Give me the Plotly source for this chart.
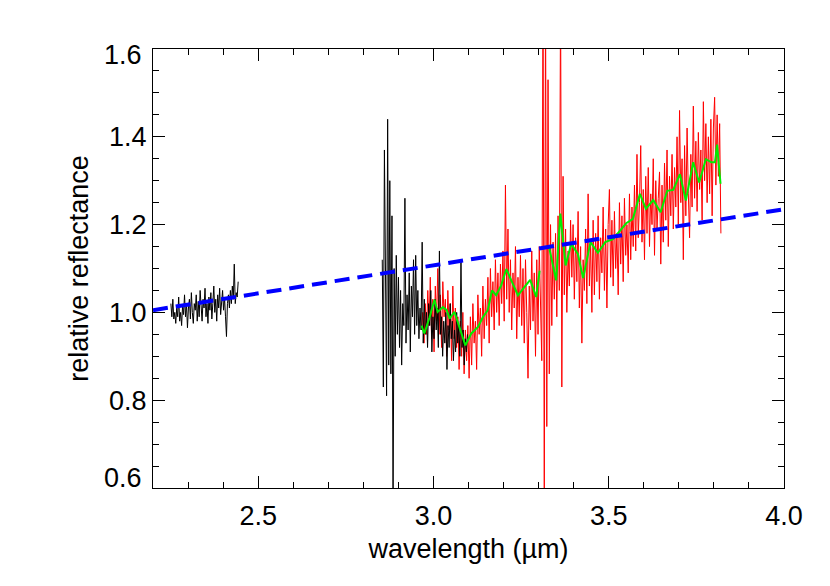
import numpy as np
import plotly.graph_objects as go

# ---------------- data ----------------
# black spectrum, short-wavelength segment
black1_wl = np.linspace(2.251, 2.443, 70)
black1_val = [1.02, 0.99, 1.03, 0.985, 1.00, 0.975, 1.01, 0.99, 1.035, 0.98,
              1.00, 0.97, 1.015, 0.995, 1.04, 0.99, 1.02, 0.965, 1.01, 1.03,
              0.985, 1.045, 1.00, 0.975, 1.02, 1.005, 1.04, 0.98, 1.025, 0.99,
              1.05, 1.00, 0.98, 1.03, 1.01, 1.055, 0.99, 1.02, 0.975, 1.035,
              1.005, 1.045, 0.985, 1.02, 1.06, 1.00, 1.03, 0.98, 1.04, 1.01,
              1.055, 0.995, 1.025, 1.05, 1.005, 1.035, 0.99, 0.945, 1.02, 1.04,
              1.01, 1.05, 1.02, 1.06, 1.03, 1.11, 1.02, 1.045, 1.035, 1.07]

# black spectrum, 3-micron segment
black2_wl = np.linspace(2.854, 3.097, 80)
black2_val = [1.12, 0.83, 1.37, 0.95, 0.81, 1.44, 0.88, 1.30, 0.86, 1.22,
              0.55, 1.10, 0.90, 1.13, 0.95, 1.08, 0.92, 1.05, 0.88, 1.02,
              0.97, 1.26, 0.93, 1.04, 0.96, 1.09, 0.91, 1.06, 0.99, 1.12,
              0.95, 1.13, 0.97, 1.05, 0.94, 1.01, 0.96, 1.16, 0.93, 1.03,
              0.95, 1.00, 0.92, 1.02, 0.97, 1.05, 0.91, 0.99, 0.94, 1.03,
              0.96, 1.01, 0.92, 1.14, 0.95, 0.99, 0.90, 0.98, 0.93, 1.00,
              0.87, 0.97, 0.92, 1.02, 0.94, 0.98, 0.89, 0.96, 0.91, 1.00,
              0.93, 0.97, 0.90, 1.12, 0.92, 0.96, 0.88, 0.94, 0.91, 0.95]

# red spectrum
red_wl = np.linspace(2.966, 3.820, 240)
red_val = [0.96, 1.00, 0.93, 1.02, 0.95, 1.05, 0.97, 1.08, 0.94, 1.03,
           0.91, 1.06, 0.98, 1.10, 0.95, 1.04, 0.92, 1.07, 0.99, 1.03,
           0.90, 1.05, 0.96, 1.02, 0.89, 1.06, 0.94, 1.01, 0.92, 0.99,
           0.87, 0.98, 0.90, 1.00, 0.86, 0.96, 0.89, 0.97, 0.85, 0.99,
           0.88, 1.02, 0.93, 0.98, 0.87, 1.04, 0.95, 1.01, 0.90, 1.06,
           0.94, 1.03, 0.97, 1.08, 0.93, 1.10, 0.99, 1.07, 0.96, 1.12,
           1.00, 1.09, 0.97, 1.11, 1.02, 1.14, 0.98, 1.29, 1.03, 1.19,
           1.00, 1.12, 0.96, 1.09, 1.01, 1.15, 0.94, 1.08, 0.99, 1.13,
           0.97, 1.10, 0.93, 1.12, 1.00, 0.85, 1.06, 0.96, 1.14, 0.98,
           1.09, 0.90, 1.12, 0.95, 1.15, 1.01, 0.89, 1.75, 0.55, 1.72,
           0.74, 1.53, 0.86, 1.20, 0.97, 1.16, 1.03, 1.18, 0.99, 1.22,
           1.05, 1.72, 0.83, 1.31, 1.04, 1.19, 1.00, 1.14, 1.06, 1.21,
           1.08, 1.20, 1.03, 1.17, 1.07, 1.23, 1.01, 1.15, 0.93, 1.12,
           1.05, 1.19, 1.02, 1.27, 1.06, 1.16, 1.00, 1.21, 1.04, 1.18,
           1.07, 1.22, 1.03, 1.17, 1.09, 1.24, 1.05, 1.19, 1.01, 1.20,
           1.28, 1.08, 1.21, 1.06, 1.23, 1.10, 1.18, 1.04, 1.25, 1.11,
           1.22, 1.07, 1.26, 1.13, 1.20, 1.09, 1.27, 1.12, 1.24, 1.15,
           1.29, 1.14, 1.36, 1.17, 1.25, 1.38, 1.16, 1.28, 1.12, 1.31,
           1.18, 1.33, 1.15, 1.27, 1.20, 1.35, 1.13, 1.30, 1.19, 1.26,
           1.32, 1.11, 1.29, 1.16, 1.34, 1.21, 1.37, 1.15, 1.31, 1.22,
           1.36, 1.19, 1.33, 1.24, 1.40, 1.20, 1.46, 1.25, 1.35, 1.12,
           1.38, 1.22, 1.42, 1.27, 1.17, 1.36, 1.24, 1.47, 1.26, 1.39,
           1.23, 1.41, 1.28, 1.37, 1.21, 1.48, 1.30, 1.43, 1.25, 1.40,
           1.27, 1.44, 1.22, 1.42, 1.49, 1.29, 1.45, 1.31, 1.43, 1.18]

# green smoothed spectrum (None = gap)
green_wl = [2.966, 2.974, 2.989, 3.003, 3.012, 3.027, 3.038, 3.046, 3.060, 3.074,
            3.091, 3.108, 3.127, 3.141, 3.155, 3.167, 3.179, 3.193, 3.208, 3.222,
            3.241, 3.260, 3.276, 3.293, 3.303, None, 3.329, 3.350, 3.362, 3.377,
            3.393, 3.412, 3.427, 3.448, 3.469, 3.490, 3.512, 3.531, 3.550, 3.569,
            3.589, 3.606, 3.627, 3.648, 3.667, 3.684, 3.703, 3.720, 3.741, 3.758,
            3.777, 3.793, 3.803, 3.809, 3.819]
green_val = [0.970, 0.952, 0.989, 1.029, 1.001, 1.012, 1.005, 0.986, 1.001, 0.967,
             0.925, 0.952, 0.967, 0.989, 1.005, 1.050, 1.039, 1.061, 1.099, 1.073,
             1.039, 1.058, 1.074, 1.035, 1.095, None, 1.152, 1.073, 1.225, 1.107,
             1.156, 1.133, 1.078, 1.160, 1.136, 1.160, 1.167, 1.185, 1.203, 1.213,
             1.270, 1.236, 1.256, 1.228, 1.277, 1.279, 1.315, 1.255, 1.342, 1.296,
             1.349, 1.342, 1.342, 1.382, 1.293]

# blue dashed continuum
cont_wl = [2.2, 4.0]
cont_val = [1.005, 1.235]

x_ticks = [2.5, 3.0, 3.5, 4.0]
x_ticklabels = ["2.5", "3.0", "3.5", "4.0"]
y_ticks = [0.8, 1.0, 1.2, 1.4]
y_ticklabels = ["0.8", "1.0", "1.2", "1.4"]

FONT = "Liberation Sans, Arial, Helvetica, sans-serif"
FS = 27

fig = go.Figure()
fig.add_trace(go.Scatter(x=red_wl, y=red_val, mode="lines",
                         line=dict(color="#ff0000", width=1), hoverinfo="skip"))
fig.add_trace(go.Scatter(x=black1_wl, y=black1_val, mode="lines",
                         line=dict(color="black", width=1), hoverinfo="skip"))
fig.add_trace(go.Scatter(x=black2_wl, y=black2_val, mode="lines",
                         line=dict(color="black", width=1), hoverinfo="skip"))
fig.add_trace(go.Scatter(x=green_wl, y=green_val, mode="lines", connectgaps=False,
                         line=dict(color="#00ee00", width=2), hoverinfo="skip"))
fig.add_trace(go.Scatter(x=cont_wl, y=cont_val, mode="lines",
                         line=dict(color="#0000ff", width=4, dash="15px,8px"),
                         hoverinfo="skip"))

axis_common = dict(showline=True, linecolor="black", linewidth=1, mirror="ticks",
                   ticks="inside", ticklen=12, tickwidth=1, tickcolor="black",
                   showgrid=False, zeroline=False,
                   tickfont=dict(family=FONT, size=FS, color="black"))

# the page body has an 8px margin, so the figure is shrunk and shifted accordingly
fig.update_layout(
    width=822, height=578,
    margin=dict(l=145, r=46, t=41, b=98),
    paper_bgcolor="white", plot_bgcolor="white",
    showlegend=False,
    xaxis=dict(range=[2.2, 4.0], tickvals=x_ticks, ticktext=x_ticklabels,
               ticklabelstandoff=4,
               minor=dict(tick0=2.0, dtick=0.1, ticks="inside", ticklen=6,
                          tickcolor="black", showgrid=False),
               title=dict(text="wavelength (µm)", standoff=8,
                          font=dict(family=FONT, size=FS, color="black")),
               **axis_common),
    yaxis=dict(range=[0.6, 1.6], tickvals=y_ticks, ticktext=y_ticklabels,
               minor=dict(tick0=0.6, dtick=0.05, ticks="inside", ticklen=6,
                          tickcolor="black", showgrid=False),
               title=dict(text="relative reflectance", standoff=12,
                          font=dict(family=FONT, size=FS, color="black")),
               **axis_common),
)

# end labels of the y axis, pulled inside the frame as in the original
for val, txt, shift in [(0.6, "0.6", 10), (1.6, "1.6", -6)]:
    fig.add_annotation(x=0, xref="paper", xanchor="right", xshift=-9,
                       y=val, yref="y", yanchor="middle", yshift=shift,
                       text=txt, showarrow=False,
                       font=dict(family=FONT, size=FS, color="black"))

fig.write_html("out.html")
